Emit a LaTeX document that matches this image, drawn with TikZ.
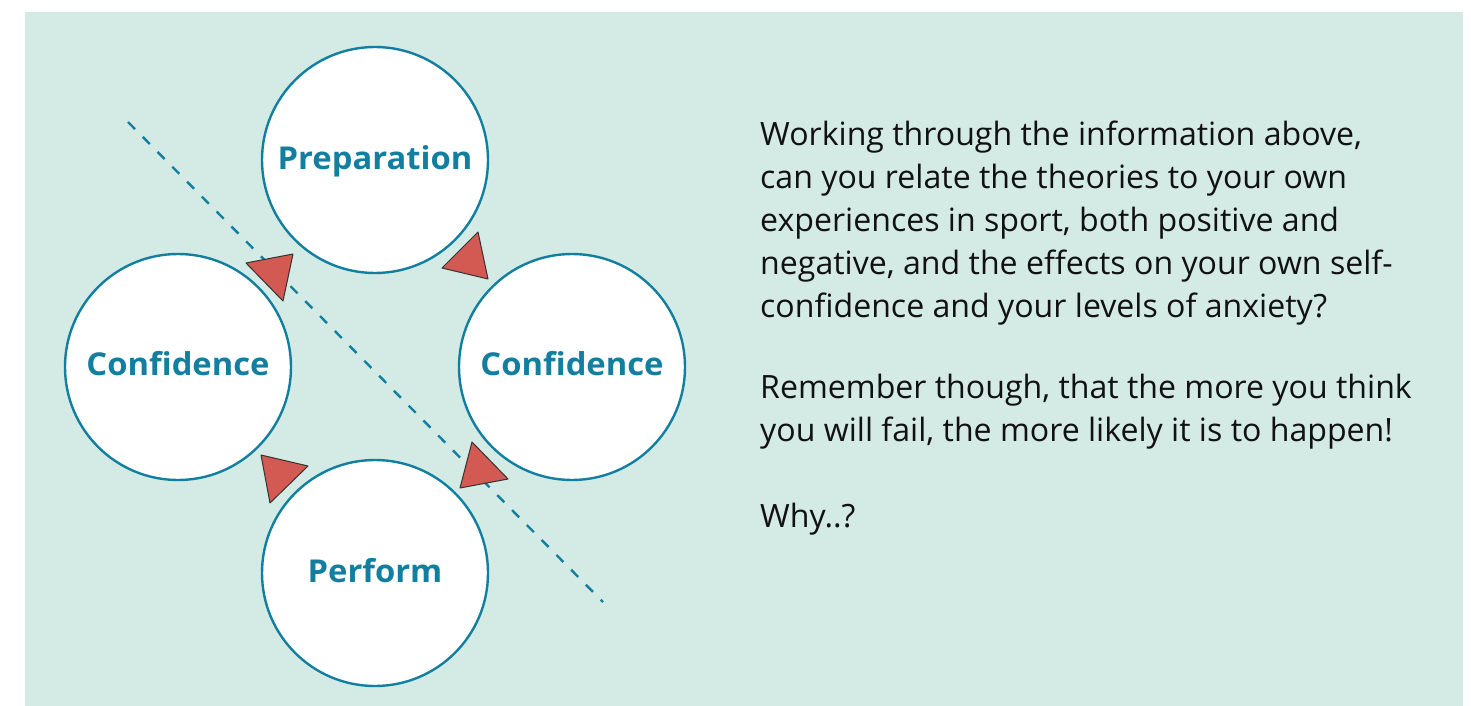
\documentclass[tikz,border=0pt]{standalone}
\usepackage{fontspec}
\setmainfont{Open Sans}
\definecolor{bgc}{HTML}{D4EAE4}
\definecolor{teal}{HTML}{127FA1}
\definecolor{tri}{HTML}{D35A52}
\definecolor{txt}{HTML}{111111}
\tikzset{
  circ/.style={circle, draw=teal, line width=2.4pt, fill=white, minimum size=226pt, inner sep=0pt},
  lbl/.style={anchor=base, text=teal, font=\fontsize{31.5}{36}\selectfont\bfseries, inner sep=0pt},
  body/.style={anchor=base west, text=txt, font=\fontsize{32.1}{43}\selectfont, inner sep=0pt},
  dashline/.style={draw=teal, line width=2.4pt, dash pattern=on 10pt off 11pt},
  arrowtri/.style={fill=tri, draw=black!80, line width=1pt, line join=round}
}
\begin{document}
\begin{tikzpicture}[x=1pt,y=-1pt]
\useasboundingbox (0,0) rectangle (1471,706);
\fill[bgc] (25,12) rectangle (1463,706);
\coordinate (d1) at (128,122);
\coordinate (d2) at (603,602);
\draw[dashline] (d1) -- (d2);
\node[circ] (prep) at (375,160) {};
\node[circ] (confL) at (178,367) {};
\node[circ] (confR) at (572,367) {};
\node[circ] (perf) at (375,573) {};
\node[lbl] (prepT) at (375,169) {\scalebox{1.04}[1]{Preparation}};
\node[lbl] (confLT) at (178,375.5) {\scalebox{1.04}[1]{Confidence}};
\node[lbl] (confRT) at (572,375.5) {\scalebox{1.04}[1]{Confidence}};
\node[lbl] (perfT) at (375,582) {\scalebox{1.04}[1]{Perform}};
\draw[arrowtri] (246,263) -- (293,254) -- (283,301) -- cycle;
\draw[arrowtri] (442,268) -- (478,232) -- (488,279) -- cycle;
\draw[arrowtri] (261,455) -- (308,466) -- (270,503) -- cycle;
\draw[arrowtri] (460,488) -- (472,442) -- (508,479) -- cycle;
\node[body] (t1) at (760,145) {Working through the information above,};
\node[body] (t2) at (760,188) {can you relate the theories to your own};
\node[body] (t3) at (760,231) {experiences in sport, both positive and};
\node[body] (t4) at (760,274) {negative, and the effects on your own self-};
\node[body] (t5) at (760,317) {confidence and your levels of anxiety?};
\node[body] (t6) at (760,398) {Remember though, that the more you think};
\node[body] (t7) at (760,441) {you will fail, the more likely it is to happen!};
\node[body] (t8) at (760,527) {Why..?};
\end{tikzpicture}
\end{document}
